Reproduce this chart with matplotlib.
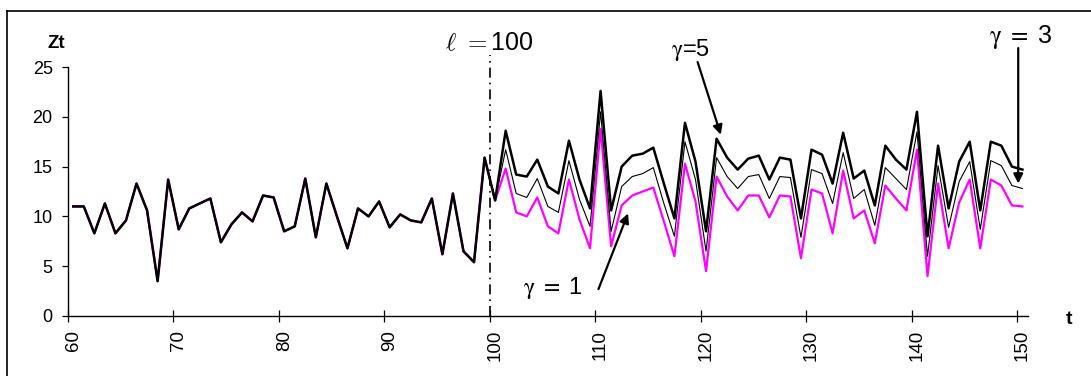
import matplotlib
matplotlib.use('Agg')
import matplotlib.pyplot as plt
from matplotlib.lines import Line2D

plt.rcParams['font.family'] = ['Liberation Sans', 'DejaVu Sans']

# time index (categories)
t = list(range(60, 151))

# common part of the series, t = 60..100
base = [11.0, 11.0, 8.3, 11.3, 8.3, 9.6, 13.3, 10.6, 3.5, 13.7,
        8.7, 10.8, 11.3, 11.8, 7.4, 9.2, 10.4, 9.5, 12.1, 11.9,
        8.5, 9.0, 13.8, 7.9, 13.3, 10.0, 6.8, 10.8, 10.0, 11.5,
        8.9, 10.2, 9.6, 9.4, 11.8, 6.2, 12.3, 6.5, 5.4, 15.9,
        11.6]

# t = 101..150 for each gamma
after_g5 = [18.6, 14.2, 14.0, 15.7, 13.0, 12.3, 17.6, 13.7, 10.8, 22.6,
            10.6, 15.0, 16.1, 16.3, 16.9, 13.3, 9.8, 19.4, 15.5, 8.5,
            17.8, 15.9, 14.7, 15.8, 16.1, 13.7, 15.9, 15.7, 9.8, 16.7,
            16.2, 13.3, 18.4, 13.8, 14.6, 11.1, 17.1, 15.7, 14.7, 20.5,
            8.0, 17.1, 10.8, 15.5, 17.5, 10.6, 17.5, 17.1, 15.0, 14.7]
after_g3 = [16.7, 12.3, 11.9, 13.8, 11.0, 10.4, 15.6, 11.7, 9.0, 20.5,
            8.5, 13.0, 14.0, 14.3, 14.9, 11.3, 8.0, 17.5, 13.7, 6.5,
            15.9, 14.0, 12.8, 14.0, 14.2, 11.8, 14.0, 13.9, 7.9, 14.7,
            14.3, 11.3, 16.4, 11.8, 12.7, 9.1, 14.9, 13.8, 12.7, 18.5,
            6.0, 15.1, 8.9, 13.5, 15.5, 8.7, 15.6, 15.1, 13.1, 12.8]
after_g1 = [14.8, 10.4, 10.0, 11.9, 9.0, 8.3, 13.7, 9.7, 6.8, 18.8,
            7.0, 11.1, 12.1, 12.5, 12.9, 9.5, 6.0, 15.3, 11.5, 4.5,
            14.0, 12.0, 10.6, 12.1, 12.1, 9.9, 12.1, 12.0, 5.8, 12.7,
            12.3, 8.3, 14.6, 9.8, 10.6, 7.3, 13.1, 11.8, 10.6, 16.7,
            4.0, 13.3, 6.8, 11.4, 13.7, 6.8, 13.7, 13.1, 11.1, 11.0]

g1 = base + after_g1
g3 = base + after_g3
g5 = base + after_g5

x_labels = [60, 70, 80, 90, 100, 110, 120, 130, 140, 150]
y_ticks = [0, 5, 10, 15, 20, 25]

fig = plt.figure(figsize=(10.91, 3.76), dpi=100)
ax = fig.add_axes([0.0623, 0.1596, 0.8797, 0.6622])

ax.plot(t, g1, color='#ff00ff', lw=1.6, zorder=2)
ax.plot(t, g3, color='black', lw=0.8, zorder=3)
ax.plot(t, g5, color='black', lw=1.8, zorder=4)

# vertical line at l = 100 (category boundary)
ax.plot([99.5, 99.5], [0, 26.2], color='black', lw=1.2,
        linestyle=(0, (6, 3, 1, 3)), clip_on=False, zorder=5)

ax.set_xlim(59.5, 150.5)
ax.set_ylim(0, 25)

# ticks on category boundaries, labels in the middle of categories
ax.set_xticks([v - 0.5 for v in x_labels])
ax.set_xticklabels([])
ax.set_xticks(x_labels, minor=True)
ax.set_xticklabels([str(v) for v in x_labels], minor=True, rotation=90,
                   fontsize=13.5)
ax.tick_params(axis='x', which='major', direction='inout', length=8, width=0.9)
ax.tick_params(axis='x', which='minor', length=0, pad=10)
ax.set_yticks(y_ticks)
ax.tick_params(axis='y', direction='out', length=4, width=0.9, pad=7,
               labelsize=13)

for s in ['top', 'right']:
    ax.spines[s].set_visible(False)
for s in ['left', 'bottom']:
    ax.spines[s].set_linewidth(1.0)

# labels and annotations
ax.text(58.4, 27.4, 'Zt', fontsize=13.5, fontweight='bold', ha='center',
        va='center', clip_on=False)
ax.text(154.4, -0.4, 't', fontsize=14, fontweight='bold', ha='center',
        va='center', clip_on=False)
ax.text(99.5, 27.4, r'$\ell\ =$100', fontsize=18, ha='center', va='center',
        math_fontfamily='cm')

arrow = dict(arrowstyle='-|>', color='black', lw=1.6, mutation_scale=14,
             shrinkA=0, shrinkB=0)
ax.annotate(r'$\mathrm{\gamma}$=5', xy=(121.4, 18.2), xytext=(118.5, 26.7),
            fontsize=17, ha='center', va='center', math_fontfamily='stix',
            annotation_clip=False)
ax.annotate('', xy=(121.4, 18.2), xytext=(119.2, 25.5), arrowprops=arrow,
            annotation_clip=False)
ax.annotate(r'$\mathrm{\gamma}\ =\ $3', xy=(149.6, 13.3), xytext=(149.8, 28.0),
            fontsize=18, ha='center', va='center', math_fontfamily='stix',
            annotation_clip=False)
ax.annotate('', xy=(149.6, 13.3), xytext=(149.6, 26.9), arrowprops=arrow,
            annotation_clip=False)
ax.annotate(r'$\mathrm{\gamma}\ =\ $1', xy=(112.6, 10.3), xytext=(105.5, 2.8),
            fontsize=17, ha='center', va='center', math_fontfamily='stix',
            annotation_clip=False)
ax.annotate('', xy=(112.6, 10.3), xytext=(109.8, 2.7), arrowprops=arrow,
            annotation_clip=False)

# outer frame (only top and left edges fall inside the picture)
fig.add_artist(Line2D([0.0067, 1.0], [0.972, 0.972], color='black', lw=1.2))
fig.add_artist(Line2D([0.0067, 0.0067], [0.0, 0.972], color='black', lw=1.2))

fig.savefig('out.png', dpi=100)
